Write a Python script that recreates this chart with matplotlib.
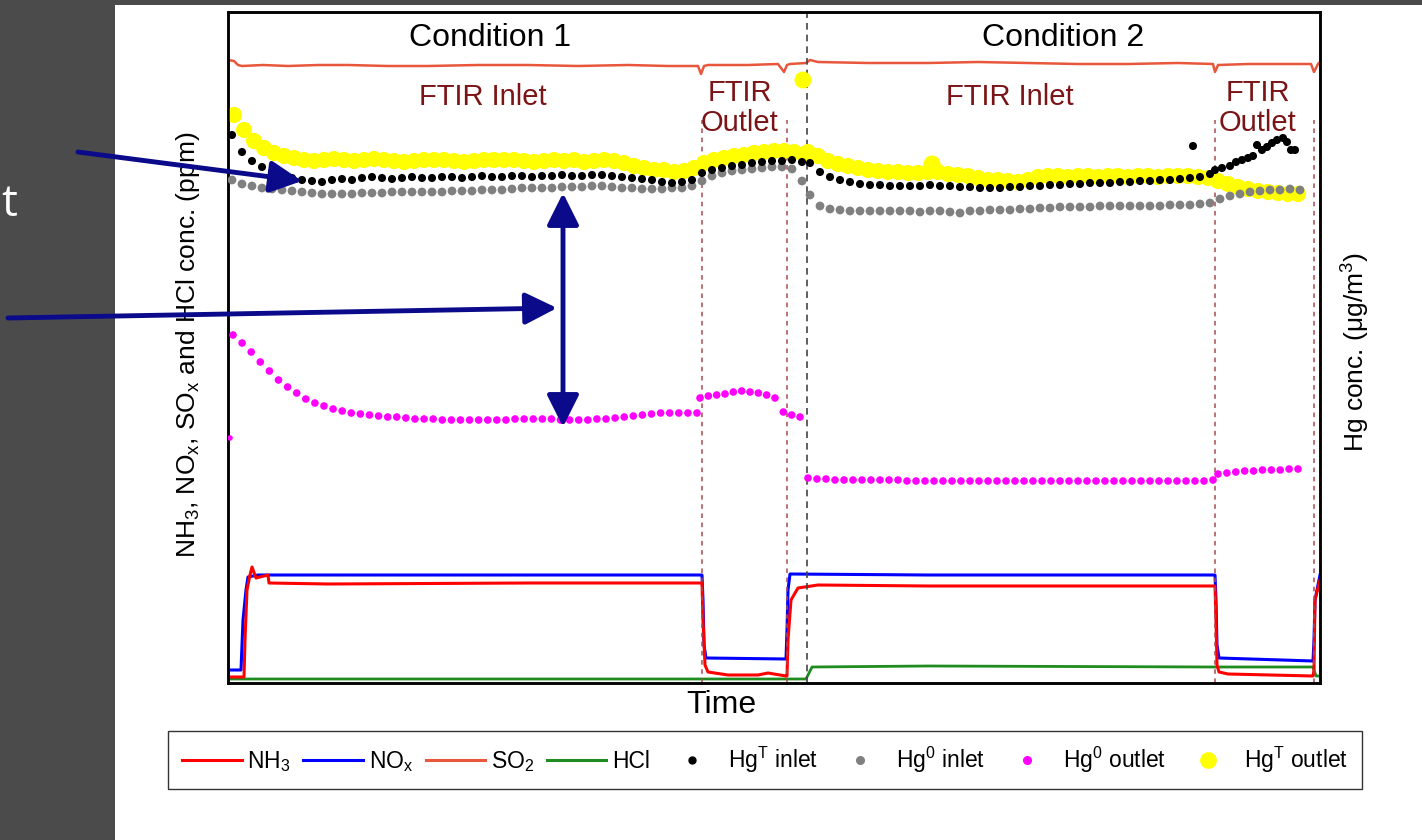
import numpy as np
import matplotlib
matplotlib.use("Agg")
import matplotlib.pyplot as plt
from matplotlib.lines import Line2D
from matplotlib.patches import Rectangle, FancyArrowPatch

plt.rcParams['font.family'] = ['Liberation Sans', 'DejaVu Sans']
plt.rcParams['mathtext.fontset'] = 'custom'
plt.rcParams['mathtext.rm'] = 'Liberation Sans'
plt.rcParams['mathtext.it'] = 'Liberation Sans:italic'
plt.rcParams['mathtext.bf'] = 'Liberation Sans:bold'

# Time axis has no ticks: t is in arbitrary units along the run (0..1092),
# concentrations are in arbitrary units (0..671) on both y axes.
T_MAX = 1092
Y_MAX = 671

# ---- gas analyser lines (ppm) ----
nh3_t = [0, 16, 17, 19, 22, 24, 28, 40, 41, 100, 300, 474, 475, 477, 480, 500, 530, 540,
         558, 559, 560, 563, 570, 590, 700, 987, 988, 989, 991, 1000, 1085, 1086, 1087, 1092]
nh3_v = [6, 6, 43, 93, 108, 116, 105, 108, 100, 99, 100, 100, 63, 18, 11, 8, 8, 10,
         7, 7, 43, 83, 95, 98, 97, 97, 63, 18, 11, 9, 7, 13, 83, 103]

nox_t = [0, 13, 15, 18, 20, 30, 100, 300, 474, 475, 476, 478, 558, 559, 560, 562,
         700, 987, 988, 989, 991, 1085, 1086, 1087, 1092]
nox_v = [13, 13, 63, 93, 106, 108, 108, 108, 108, 83, 38, 25, 24, 53, 93, 109,
         108, 108, 83, 38, 25, 22, 43, 83, 108]

so2_t = [0, 6, 10, 14, 35, 60, 90, 120, 160, 200, 250, 300, 350, 400, 440, 470, 473, 476,
         480, 520, 550, 556, 559, 562, 578, 582, 590, 640, 700, 750, 800, 850, 900, 950,
         985, 987, 990, 1020, 1050, 1083, 1086, 1090, 1092]
so2_v = [623, 622, 618, 617, 618, 617, 618, 618, 617, 617, 618, 618, 617, 618, 617, 617,
         609, 617, 618, 618, 619, 611, 618, 619, 620, 623, 621, 620, 620, 621, 620, 619,
         619, 620, 619, 611, 618, 619, 619, 619, 611, 619, 621]

hcl_t = [0, 300, 578, 580, 584, 700, 987, 1085, 1088, 1092]
hcl_v = [4, 4, 4, 8, 16, 17, 16, 16, 7, 7]

# ---- mercury analyser points (ug/m3), regularly sampled segments ----
hgt_out_c1 = [568, 553, 542, 535, 530, 527, 525, 523, 522, 523, 524, 523, 522, 523, 524, 523,
              522, 521, 522, 523, 523, 523, 522, 521, 522, 523, 523, 523, 523, 522, 521, 522,
              523, 522, 523, 521, 522, 523, 522, 520, 517, 515, 513, 513, 511, 512, 515, 520,
              523, 525, 527, 528, 530, 531, 532, 532, 531, 529]
hgt_out_c2 = [531, 527, 522, 519, 517, 515, 513, 512, 511, 511, 510, 510, 511, 511, 509, 508,
              507, 505, 503, 503, 502, 501, 503, 506, 507, 507, 506, 507, 507, 506, 507, 507,
              506, 507, 507, 506, 507, 507, 507, 506, 505, 502, 499, 496, 494, 492, 491, 490,
              489, 489]
hgt_out_extra_t = [575, 704]
hgt_out_extra_v = [603, 519]

hgt_in_c1 = [548, 531, 522, 516, 511, 508, 505, 503, 502, 501, 503, 504, 503, 505, 506, 505,
             504, 505, 506, 505, 505, 506, 506, 505, 506, 507, 506, 506, 507, 507, 506, 507,
             507, 508, 507, 507, 508, 508, 507, 506, 505, 504, 503, 501, 500, 501, 503, 510,
             513, 515, 517, 518, 520, 521, 522, 522, 523, 521]
hgt_in_c2 = [520, 511, 506, 503, 501, 499, 498, 498, 497, 497, 497, 497, 498, 497, 497, 496,
             496, 495, 495, 495, 496, 496, 497, 497, 498, 498, 499, 499, 500, 500, 500, 501,
             501, 502, 502, 503, 503, 504, 505, 506, 509]
hgt_in_end_t = [965, 987, 994, 1002, 1008, 1014, 1020, 1025, 1029, 1034, 1039, 1044, 1049,
                1055, 1059, 1063, 1067]
hgt_in_end_v = [537, 513, 515, 517, 521, 523, 525, 527, 538, 533, 536, 540, 543, 545, 541,
                533, 533]

hg0_in_c1 = [503, 499, 497, 495, 494, 493, 492, 491, 490, 489, 489, 489, 489, 490, 490, 490,
             491, 491, 491, 491, 491, 491, 492, 492, 492, 493, 493, 493, 494, 495, 495, 495,
             495, 496, 496, 496, 497, 497, 496, 495, 495, 494, 494, 494, 495, 495, 497, 502,
             507, 510, 512, 513, 514, 515, 516, 516, 514, 502]
hg0_in_c2 = [488, 477, 474, 473, 472, 472, 472, 472, 472, 472, 472, 471, 472, 472, 471, 470,
             472, 472, 473, 473, 473, 474, 474, 475, 475, 476, 476, 476, 476, 477, 477, 477,
             477, 477, 477, 477, 478, 478, 478, 479, 480, 484, 487, 489, 491, 492, 493, 493,
             494, 493]

hg0_out_c1 = [348, 340, 331, 321, 312, 303, 296, 290, 284, 280, 277, 274, 272, 270, 269, 268,
              267, 266, 266, 265, 264, 264, 264, 263, 263, 263, 263, 263, 263, 263, 263, 264,
              264, 264, 264, 264, 263, 263, 263, 263, 264, 264, 265, 266, 267, 268, 269, 270,
              270, 270, 270, 270]
hg0_out_c1_ftir = [285, 287, 288, 289, 291, 292, 291, 290, 288, 285, 271, 268, 266]
hg0_out_c2 = [205, 204, 204, 203, 203, 203, 203, 203, 203, 203, 203, 202, 202, 202, 202, 202,
              202, 202, 202, 202, 202, 202, 202, 202, 202, 202, 202, 202, 202, 202, 202, 202,
              202, 202, 202, 202, 202, 202, 202, 202, 202, 202, 202, 202, 202, 203]
hg0_out_c2_ftir = [209, 210, 211, 212, 212, 213, 213, 213, 214, 214]
hg0_out_first_t = [2]
hg0_out_first_v = [245]

# switch times (FTIR inlet/outlet, condition change)
ftir_switch = [474, 559, 987, 1086]
cond_switch = 579

C_NH3 = '#FF0000'
C_NOX = '#0000FF'
C_SO2 = '#E8573C'
C_HCL = '#1E8C1E'
C_DARKRED = '#7A1416'
NAVY = '#0A0A8A'


def seg(t0, t1, vals):
    return np.linspace(t0, t1, len(vals)), np.asarray(vals)


fig = plt.figure(figsize=(14.22, 8.4), dpi=100, facecolor='white')
W, H = 1422, 840

# slide background panels
fig.add_artist(Rectangle((0, 0), 115 / W, 1, transform=fig.transFigure,
                         facecolor='#4b4b4b', edgecolor='none', zorder=-5))
fig.add_artist(Rectangle((0, 1 - 5 / H), 1, 5 / H, transform=fig.transFigure,
                         facecolor='#4b4b4b', edgecolor='none', zorder=-5))
fig.text(17 / W, 1 - 205 / H, 't', color='white', fontsize=32, ha='right', va='center',
         family=['Open Sans', 'DejaVu Sans'])

ax = fig.add_axes([228 / W, 1 - 683 / H, 1092 / W, 671 / H])
ax2 = ax.twinx()
for a in (ax, ax2):
    a.set_xlim(0, T_MAX)
    a.set_ylim(0, Y_MAX)
    a.set_xticks([])
    a.set_yticks([])
    for s in a.spines.values():
        s.set_linewidth(1.8)
        s.set_color('black')

ax.plot(hcl_t, hcl_v, color=C_HCL, lw=2)
ax.plot(nox_t, nox_v, color=C_NOX, lw=2.2)
ax.plot(nh3_t, nh3_v, color=C_NH3, lw=2.2)
ax.plot(so2_t, so2_v, color=C_SO2, lw=1.8)

ax.axvline(cond_switch, color='#444444', lw=1.2, ls=(0, (4, 3)))
for ts in ftir_switch:
    ax.plot([ts, ts], [0, 563], color='#A84A50', lw=1.1, ls=(0, (3, 3)))

# mercury points
for t0, t1, vals in [(4, 574, hg0_in_c1), (582, 1072, hg0_in_c2)]:
    tt, vv = seg(t0, t1, vals)
    ax2.scatter(tt, vv, s=40, color='#808080', edgecolors='none', zorder=3)
for t0, t1, vals in [(4, 574, hgt_in_c1), (582, 982, hgt_in_c2)]:
    tt, vv = seg(t0, t1, vals)
    ax2.scatter(tt, vv, s=34, color='black', edgecolors='none', zorder=4)
ax2.scatter(hgt_in_end_t, hgt_in_end_v, s=34, color='black', edgecolors='none', zorder=4)
for t0, t1, vals in [(5, 469, hg0_out_c1), (472, 572, hg0_out_c1_ftir),
                     (580, 985, hg0_out_c2), (990, 1070, hg0_out_c2_ftir)]:
    tt, vv = seg(t0, t1, vals)
    ax2.scatter(tt, vv, s=30, color='#FF00FF', edgecolors='none', zorder=3)
ax2.scatter(hg0_out_first_t, hg0_out_first_v, s=16, color='#FF00FF', edgecolors='none', zorder=3)
for t0, t1, vals in [(6, 576, hgt_out_c1), (580, 1070, hgt_out_c2)]:
    tt, vv = seg(t0, t1, vals)
    ax2.scatter(tt, vv, s=135, color='#FFFF00', edgecolors='none', zorder=2)
ax2.scatter(hgt_out_extra_t, hgt_out_extra_v, s=150, color='#FFFF00', edgecolors='none', zorder=2)

# annotations
ax.text(262, 645, 'Condition 1', fontsize=23, ha='center', va='center')
ax.text(835, 645, 'Condition 2', fontsize=23, ha='center', va='center')
ax.text(255, 586, 'FTIR Inlet', fontsize=21, color=C_DARKRED, ha='center', va='center')
ax.text(782, 586, 'FTIR Inlet', fontsize=21, color=C_DARKRED, ha='center', va='center')
ax.text(512, 575, 'FTIR\nOutlet', fontsize=21, color=C_DARKRED, ha='center', va='center',
        linespacing=1.1)
ax.text(1030, 575, 'FTIR\nOutlet', fontsize=21, color=C_DARKRED, ha='center', va='center',
        linespacing=1.1)

ax.text(0.452, -0.033, 'Time', transform=ax.transAxes, fontsize=23, ha='center', va='center')
ax.set_ylabel(r'NH$_\mathrm{3}$, NO$_\mathrm{x}$, SO$_\mathrm{x}$ and HCl conc. (ppm)',
              fontsize=19)
ax.yaxis.set_label_coords(-0.024, 0.504)
ax2.set_ylabel(r'Hg conc. (μg/m$^\mathrm{3}$)', fontsize=19)
ax2.yaxis.set_label_coords(1.018, 0.493)

# legend
handles = [
    Line2D([], [], color=C_NH3, lw=2.2),
    Line2D([], [], color=C_NOX, lw=2.2),
    Line2D([], [], color=C_SO2, lw=2.2),
    Line2D([], [], color=C_HCL, lw=2.2),
    Line2D([], [], ls='none', marker='o', ms=5, color='black'),
    Line2D([], [], ls='none', marker='o', ms=5.5, color='#808080'),
    Line2D([], [], ls='none', marker='o', ms=5.5, color='#FF00FF'),
    Line2D([], [], ls='none', marker='o', ms=11, color='#FFFF00'),
]
labels = [r'NH$_\mathrm{3}$', r'NO$_\mathrm{x}$', r'SO$_\mathrm{2}$', 'HCl',
          r'Hg$^\mathrm{T}$ inlet', r'Hg$^\mathrm{0}$ inlet',
          r'Hg$^\mathrm{0}$ outlet', r'Hg$^\mathrm{T}$ outlet']
leg = fig.legend(handles, labels, loc='center', bbox_to_anchor=(765 / W, 1 - 760 / H),
                 ncol=8, fontsize=16.5, frameon=True, fancybox=False, handlelength=2.6,
                 handletextpad=0.25, columnspacing=0.55, borderpad=0.6)
leg.get_frame().set_edgecolor('black')
leg.get_frame().set_linewidth(1.0)


def fig_pt(px, py):
    return (px / W, 1 - py / H)


for a, b, style in [((78, 152), (302, 181), '-|>'),
                    ((8, 318), (557, 308), '-|>'),
                    ((563, 193), (563, 427), '<|-|>')]:
    arr = FancyArrowPatch(fig_pt(*a), fig_pt(*b), transform=fig.transFigure,
                          arrowstyle=style + ',head_length=1.5,head_width=0.75',
                          mutation_scale=13, color=NAVY, lw=3.5, zorder=10,
                          shrinkA=0, shrinkB=0)
    fig.add_artist(arr)

fig.savefig('out.png', dpi=100, facecolor='white')
